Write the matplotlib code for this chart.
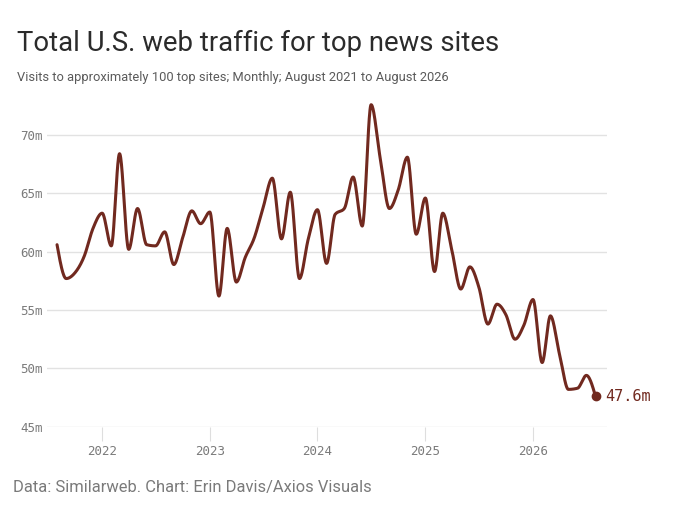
import matplotlib
matplotlib.use("Agg")
import matplotlib.pyplot as plt
import matplotlib.dates as mdates
import numpy as np
import pandas as pd

# monthly visits (millions), Aug 2021 .. Aug 2026
months = pd.date_range("2021-08-01", periods=61, freq="MS")
visits = [60.6, 57.7, 58.2, 59.6, 62.0, 63.3, 60.5, 68.4, 60.2, 63.7,
          60.6, 60.5, 61.7, 58.9, 61.2, 63.5, 62.4, 63.4, 56.2, 62.0,
          57.4, 59.5, 61.2, 63.8, 66.3, 61.1, 65.1, 57.7, 61.1, 63.6,
          59.0, 63.2, 63.7, 66.4, 62.2, 72.6, 68.0, 63.7, 65.3, 68.1,
          61.5, 64.6, 58.3, 63.3, 60.1, 56.8, 58.7, 57.0, 53.8, 55.5,
          54.6, 52.5, 53.7, 55.9, 50.5, 54.5, 51.2, 48.2, 48.3, 49.4,
          47.6]
year_ticks = ["2022", "2023", "2024", "2025", "2026"]
y_ticks = [45, 50, 55, 60, 65, 70]

LINE = "#71291f"


def monotone_curve(x, y, n=24):
    # monotone cubic (same idea as d3 curveMonotoneX)
    x = np.asarray(x, float)
    y = np.asarray(y, float)
    h = np.diff(x)
    s = np.diff(y) / h
    t = np.zeros_like(y)
    for i in range(1, len(y) - 1):
        p = (s[i - 1] * h[i] + s[i] * h[i - 1]) / (h[i - 1] + h[i])
        t[i] = (np.sign(s[i - 1]) + np.sign(s[i])) * min(abs(s[i - 1]), abs(s[i]), 0.5 * abs(p))
    t[0] = (3 * s[0] - t[1]) / 2
    t[-1] = (3 * s[-1] - t[-2]) / 2
    xs, ys = [], []
    for i in range(len(h)):
        u = np.linspace(0, 1, n, endpoint=False)
        h00 = 2 * u**3 - 3 * u**2 + 1
        h10 = u**3 - 2 * u**2 + u
        h01 = -2 * u**3 + 3 * u**2
        h11 = u**3 - u**2
        xs.append(x[i] + u * h[i])
        ys.append(h00 * y[i] + h10 * h[i] * t[i] + h01 * y[i + 1] + h11 * h[i] * t[i + 1])
    xs.append([x[-1]])
    ys.append([y[-1]])
    return np.concatenate(xs), np.concatenate(ys)


fig = plt.figure(figsize=(6.8, 5.14), dpi=100)
ax = fig.add_axes([0.0687, 0.1698, 0.824, 0.6356])

xnum = mdates.date2num(months)
cx, cy = monotone_curve(xnum, visits)
ax.plot(cx, cy, color=LINE, lw=2.2, solid_capstyle="round", zorder=3)
ax.plot(xnum[-1], visits[-1], "o", color=LINE, ms=6, zorder=4)
ax.annotate(f"{visits[-1]}m", (xnum[-1], visits[-1]), xytext=(7, 0),
            textcoords="offset points", va="center", ha="left",
            family="DejaVu Sans Mono", fontsize=11, color=LINE)

ax.set_xlim(xnum[0] - 35, xnum[-1] + 39)
ax.set_ylim(45, 73.0)

ax.set_yticks(y_ticks)
ax.set_yticklabels([f"{v}m" for v in y_ticks])
tick_pos = mdates.date2num(pd.to_datetime([f"{y}-01-01" for y in year_ticks]))
ax.set_xticks(tick_pos)
ax.set_xticklabels(year_ticks)

ax.grid(axis="y", color="#e2e2e2", lw=1)
ax.set_axisbelow(True)
for sp in ax.spines.values():
    sp.set_visible(False)
ax.tick_params(axis="y", length=0, pad=3, labelsize=9, labelcolor="#7a7a7a")
ax.tick_params(axis="x", length=10, width=0.8, color="#dedede", pad=3,
               labelsize=9, labelcolor="#7a7a7a")
for lab in ax.get_xticklabels() + ax.get_yticklabels():
    lab.set_family("DejaVu Sans Mono")

fig.text(0.025, 0.915, "Total U.S. web traffic for top news sites",
         family="Roboto", fontsize=19.8, color="#2b2b2b", va="center")
fig.text(0.025, 0.85, "Visits to approximately 100 top sites; Monthly; August 2021 to August 2026",
         family="Roboto", fontsize=9.3, color="#5a5a5a", va="center")
fig.text(0.019, 0.052, "Data: Similarweb. Chart: Erin Davis/Axios Visuals",
         family="Roboto", fontsize=11.9, color="#7a7a7a", va="center")

fig.savefig("out.png", dpi=100, facecolor="white")
